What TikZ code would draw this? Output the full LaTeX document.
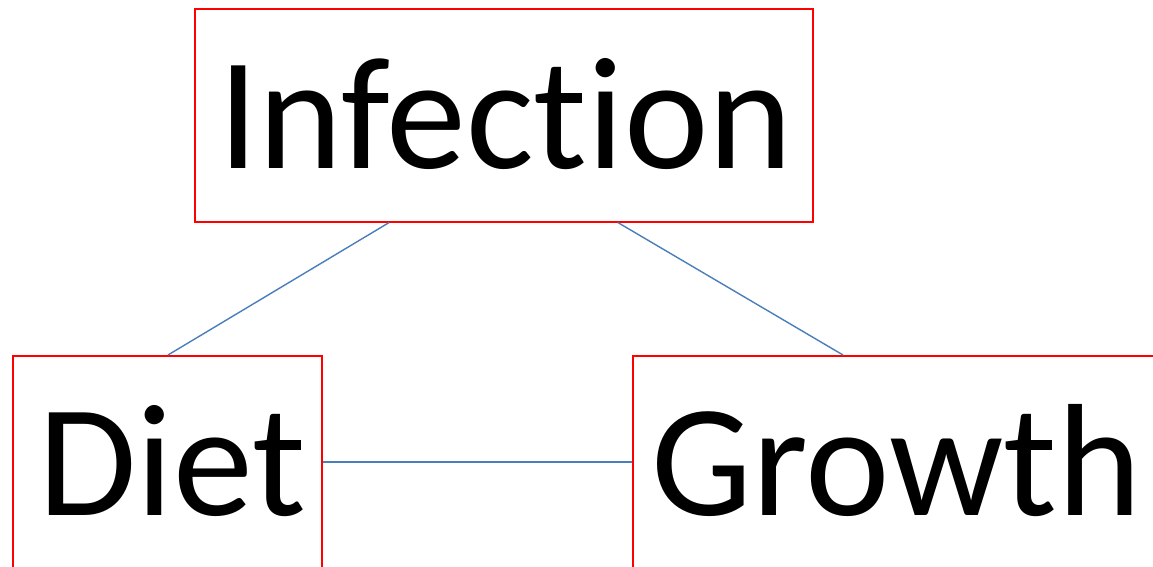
\documentclass[tikz,border=0pt]{standalone}
\usepackage{fontspec}
\setmainfont{Carlito}[Ligatures=NoCommon]
\usetikzlibrary{calc}
\definecolor{boxred}{HTML}{FF0000}
\definecolor{linkblue}{HTML}{4A7EBB}
\tikzset{
  box/.style={draw=boxred, line width=1.6pt, inner sep=0pt, anchor=north west},
  lbl/.style={inner sep=0pt, anchor=base west, font=\fontsize{160}{190}\selectfont},
  link/.style={draw=linkblue, line width=1.4pt}
}
\begin{document}
\begin{tikzpicture}[x=1pt,y=1pt]
\useasboundingbox (0,0) rectangle (1153,-567);
\clip (0,0) rectangle (1153,-567);
\node[box, minimum width=618pt, minimum height=213pt] (inf) at (194,-8) {};
\node[box, minimum width=309pt, minimum height=240pt] (diet) at (12,-355) {};
\node[box, minimum width=540pt, minimum height=240pt] (grow) at (632,-355) {};
\node[lbl] (tinf) at (218,-168) {Infection};
\node[lbl] (tdiet) at (38,-515) {Diet};
\node[lbl] (tgrow) at (651,-515) {Growth};
\coordinate (infL) at ($(inf.south west)+(195,0)$);
\coordinate (infR) at ($(inf.south west)+(424,0)$);
\coordinate (dietT) at ($(diet.north west)+(156,0)$);
\coordinate (growT) at ($(grow.north west)+(211,0)$);
\coordinate (dietR) at ($(diet.north east)+(0,-107)$);
\coordinate (growL) at ($(grow.north west)+(0,-107)$);
\draw[link] (infL) -- (dietT);
\draw[link] (infR) -- (growT);
\draw[link] (dietR) -- (growL);
\end{tikzpicture}
\end{document}
